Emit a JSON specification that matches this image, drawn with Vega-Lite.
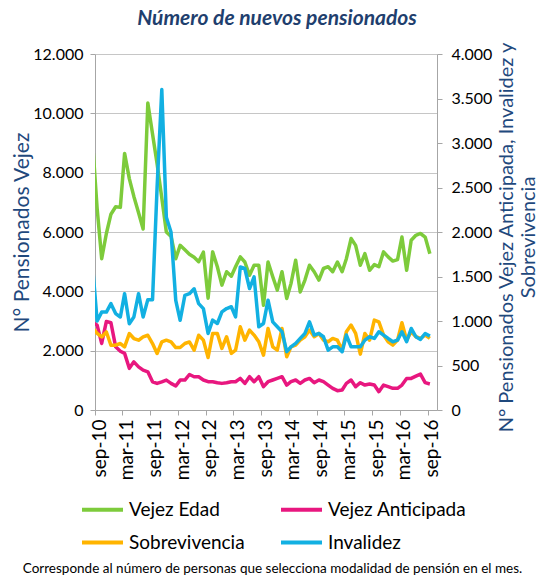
{
  "$schema": "https://vega.github.io/schema/vega-lite/v6.json",
  "width": 342,
  "height": 356,
  "autosize": {"type": "none"},
  "padding": {"left": 95, "top": 54, "right": 105, "bottom": 165},
  "background": "white",
  "config": {"font": "Lato", "view": {"stroke": null}},
  "title": {"text": "Número de nuevos pensionados", "fontSize": 21, "fontWeight": "bold", "fontStyle": "italic", "color": "#1F3F6E", "frame": "group", "dx": 11, "offset": 12, "font": "Lato"},
  "data": {"values": [
    {"fecha": "2010-08-15", "Vejez Edad": 9100, "Vejez Anticipada": 990, "Sobrevivencia": 925, "Invalidez": 1640},
    {"fecha": "2010-09-15", "Vejez Edad": 6800, "Vejez Anticipada": 954, "Sobrevivencia": 860, "Invalidez": 1000},
    {"fecha": "2010-10-15", "Vejez Edad": 5100, "Vejez Anticipada": 748, "Sobrevivencia": 821, "Invalidez": 1100},
    {"fecha": "2010-11-15", "Vejez Edad": 5950, "Vejez Anticipada": 995, "Sobrevivencia": 877, "Invalidez": 1100},
    {"fecha": "2010-12-15", "Vejez Edad": 6600, "Vejez Anticipada": 980, "Sobrevivencia": 728, "Invalidez": 1195},
    {"fecha": "2011-01-15", "Vejez Edad": 6850, "Vejez Anticipada": 710, "Sobrevivencia": 728, "Invalidez": 1083},
    {"fecha": "2011-02-15", "Vejez Edad": 6830, "Vejez Anticipada": 660, "Sobrevivencia": 747, "Invalidez": 1045},
    {"fecha": "2011-03-15", "Vejez Edad": 8650, "Vejez Anticipada": 636, "Sobrevivencia": 709, "Invalidez": 1307},
    {"fecha": "2011-04-15", "Vejez Edad": 7800, "Vejez Anticipada": 468, "Sobrevivencia": 859, "Invalidez": 970},
    {"fecha": "2011-05-15", "Vejez Edad": 7200, "Vejez Anticipada": 541, "Sobrevivencia": 803, "Invalidez": 1045},
    {"fecha": "2011-06-15", "Vejez Edad": 6650, "Vejez Anticipada": 485, "Sobrevivencia": 784, "Invalidez": 1307},
    {"fecha": "2011-07-15", "Vejez Edad": 6100, "Vejez Anticipada": 448, "Sobrevivencia": 821, "Invalidez": 1045},
    {"fecha": "2011-08-15", "Vejez Edad": 10350, "Vejez Anticipada": 429, "Sobrevivencia": 840, "Invalidez": 1240},
    {"fecha": "2011-09-15", "Vejez Edad": 9300, "Vejez Anticipada": 317, "Sobrevivencia": 747, "Invalidez": 1240},
    {"fecha": "2011-10-15", "Vejez Edad": 8300, "Vejez Anticipada": 299, "Sobrevivencia": 635, "Invalidez": 2500},
    {"fecha": "2011-11-15", "Vejez Edad": 7150, "Vejez Anticipada": 317, "Sobrevivencia": 765, "Invalidez": 3600},
    {"fecha": "2011-12-15", "Vejez Edad": 6000, "Vejez Anticipada": 336, "Sobrevivencia": 784, "Invalidez": 2165},
    {"fecha": "2012-01-15", "Vejez Edad": 5850, "Vejez Anticipada": 299, "Sobrevivencia": 765, "Invalidez": 1997},
    {"fecha": "2012-02-15", "Vejez Edad": 5100, "Vejez Anticipada": 269, "Sobrevivencia": 702, "Invalidez": 1232},
    {"fecha": "2012-03-15", "Vejez Edad": 5550, "Vejez Anticipada": 336, "Sobrevivencia": 702, "Invalidez": 1008},
    {"fecha": "2012-04-15", "Vejez Edad": 5400, "Vejez Anticipada": 336, "Sobrevivencia": 747, "Invalidez": 1288},
    {"fecha": "2012-05-15", "Vejez Edad": 5250, "Vejez Anticipada": 399, "Sobrevivencia": 765, "Invalidez": 1307},
    {"fecha": "2012-06-15", "Vejez Edad": 5150, "Vejez Anticipada": 373, "Sobrevivencia": 672, "Invalidez": 1362},
    {"fecha": "2012-07-15", "Vejez Edad": 5000, "Vejez Anticipada": 373, "Sobrevivencia": 840, "Invalidez": 1195},
    {"fecha": "2012-08-15", "Vejez Edad": 5320, "Vejez Anticipada": 337, "Sobrevivencia": 785, "Invalidez": 1139},
    {"fecha": "2012-09-15", "Vejez Edad": 3770, "Vejez Anticipada": 318, "Sobrevivencia": 590, "Invalidez": 860},
    {"fecha": "2012-10-15", "Vejez Edad": 5330, "Vejez Anticipada": 318, "Sobrevivencia": 860, "Invalidez": 1010},
    {"fecha": "2012-11-15", "Vejez Edad": 4830, "Vejez Anticipada": 307, "Sobrevivencia": 860, "Invalidez": 972},
    {"fecha": "2012-12-15", "Vejez Edad": 4210, "Vejez Anticipada": 299, "Sobrevivencia": 692, "Invalidez": 1103},
    {"fecha": "2013-01-15", "Vejez Edad": 4660, "Vejez Anticipada": 307, "Sobrevivencia": 823, "Invalidez": 1140},
    {"fecha": "2013-02-15", "Vejez Edad": 4510, "Vejez Anticipada": 318, "Sobrevivencia": 636, "Invalidez": 1160},
    {"fecha": "2013-03-15", "Vejez Edad": 4830, "Vejez Anticipada": 318, "Sobrevivencia": 673, "Invalidez": 1047},
    {"fecha": "2013-04-15", "Vejez Edad": 5160, "Vejez Anticipada": 355, "Sobrevivencia": 935, "Invalidez": 1608},
    {"fecha": "2013-05-15", "Vejez Edad": 4990, "Vejez Anticipada": 299, "Sobrevivencia": 785, "Invalidez": 1590},
    {"fecha": "2013-06-15", "Vejez Edad": 4540, "Vejez Anticipada": 374, "Sobrevivencia": 898, "Invalidez": 1365},
    {"fecha": "2013-07-15", "Vejez Edad": 4880, "Vejez Anticipada": 318, "Sobrevivencia": 842, "Invalidez": 1496},
    {"fecha": "2013-08-15", "Vejez Edad": 4880, "Vejez Anticipada": 374, "Sobrevivencia": 767, "Invalidez": 935},
    {"fecha": "2013-09-15", "Vejez Edad": 3530, "Vejez Anticipada": 262, "Sobrevivencia": 617, "Invalidez": 972},
    {"fecha": "2013-10-15", "Vejez Edad": 4990, "Vejez Anticipada": 318, "Sobrevivencia": 916, "Invalidez": 1234},
    {"fecha": "2013-11-15", "Vejez Edad": 4490, "Vejez Anticipada": 337, "Sobrevivencia": 710, "Invalidez": 990},
    {"fecha": "2013-12-15", "Vejez Edad": 4040, "Vejez Anticipada": 355, "Sobrevivencia": 673, "Invalidez": 935},
    {"fecha": "2014-01-15", "Vejez Edad": 4660, "Vejez Anticipada": 374, "Sobrevivencia": 916, "Invalidez": 880},
    {"fecha": "2014-02-15", "Vejez Edad": 3760, "Vejez Anticipada": 280, "Sobrevivencia": 598, "Invalidez": 655},
    {"fecha": "2014-03-15", "Vejez Edad": 4260, "Vejez Anticipada": 318, "Sobrevivencia": 710, "Invalidez": 710},
    {"fecha": "2014-04-15", "Vejez Edad": 5050, "Vejez Anticipada": 337, "Sobrevivencia": 729, "Invalidez": 748},
    {"fecha": "2014-05-15", "Vejez Edad": 3980, "Vejez Anticipada": 299, "Sobrevivencia": 785, "Invalidez": 804},
    {"fecha": "2014-06-15", "Vejez Edad": 4380, "Vejez Anticipada": 337, "Sobrevivencia": 823, "Invalidez": 860},
    {"fecha": "2014-07-15", "Vejez Edad": 4880, "Vejez Anticipada": 355, "Sobrevivencia": 898, "Invalidez": 990},
    {"fecha": "2014-08-15", "Vejez Edad": 4660, "Vejez Anticipada": 307, "Sobrevivencia": 823, "Invalidez": 842},
    {"fecha": "2014-09-15", "Vejez Edad": 4380, "Vejez Anticipada": 337, "Sobrevivencia": 860, "Invalidez": 860},
    {"fecha": "2014-10-15", "Vejez Edad": 4770, "Vejez Anticipada": 318, "Sobrevivencia": 785, "Invalidez": 823},
    {"fecha": "2014-11-15", "Vejez Edad": 4830, "Vejez Anticipada": 280, "Sobrevivencia": 767, "Invalidez": 673},
    {"fecha": "2014-12-15", "Vejez Edad": 4660, "Vejez Anticipada": 243, "Sobrevivencia": 804, "Invalidez": 710},
    {"fecha": "2015-01-15", "Vejez Edad": 4990, "Vejez Anticipada": 217, "Sobrevivencia": 785, "Invalidez": 710},
    {"fecha": "2015-02-15", "Vejez Edad": 4660, "Vejez Anticipada": 224, "Sobrevivencia": 673, "Invalidez": 655},
    {"fecha": "2015-03-15", "Vejez Edad": 5100, "Vejez Anticipada": 299, "Sobrevivencia": 879, "Invalidez": 842},
    {"fecha": "2015-04-15", "Vejez Edad": 5780, "Vejez Anticipada": 337, "Sobrevivencia": 954, "Invalidez": 710},
    {"fecha": "2015-05-15", "Vejez Edad": 5550, "Vejez Anticipada": 262, "Sobrevivencia": 860, "Invalidez": 710},
    {"fecha": "2015-06-15", "Vejez Edad": 4880, "Vejez Anticipada": 307, "Sobrevivencia": 628, "Invalidez": 710},
    {"fecha": "2015-07-15", "Vejez Edad": 5270, "Vejez Anticipada": 280, "Sobrevivencia": 860, "Invalidez": 785},
    {"fecha": "2015-08-15", "Vejez Edad": 4710, "Vejez Anticipada": 292, "Sobrevivencia": 785, "Invalidez": 823},
    {"fecha": "2015-09-15", "Vejez Edad": 4900, "Vejez Anticipada": 280, "Sobrevivencia": 1010, "Invalidez": 804},
    {"fecha": "2015-10-15", "Vejez Edad": 4830, "Vejez Anticipada": 206, "Sobrevivencia": 991, "Invalidez": 879},
    {"fecha": "2015-11-15", "Vejez Edad": 5330, "Vejez Anticipada": 280, "Sobrevivencia": 842, "Invalidez": 842},
    {"fecha": "2015-12-15", "Vejez Edad": 5160, "Vejez Anticipada": 262, "Sobrevivencia": 767, "Invalidez": 804},
    {"fecha": "2016-01-15", "Vejez Edad": 5020, "Vejez Anticipada": 243, "Sobrevivencia": 729, "Invalidez": 767},
    {"fecha": "2016-02-15", "Vejez Edad": 5070, "Vejez Anticipada": 243, "Sobrevivencia": 785, "Invalidez": 785},
    {"fecha": "2016-03-15", "Vejez Edad": 5830, "Vejez Anticipada": 280, "Sobrevivencia": 980, "Invalidez": 879},
    {"fecha": "2016-04-15", "Vejez Edad": 4710, "Vejez Anticipada": 355, "Sobrevivencia": 785, "Invalidez": 767},
    {"fecha": "2016-05-15", "Vejez Edad": 5720, "Vejez Anticipada": 355, "Sobrevivencia": 879, "Invalidez": 916},
    {"fecha": "2016-06-15", "Vejez Edad": 5890, "Vejez Anticipada": 381, "Sobrevivencia": 823, "Invalidez": 823},
    {"fecha": "2016-07-15", "Vejez Edad": 5950, "Vejez Anticipada": 404, "Sobrevivencia": 804, "Invalidez": 793},
    {"fecha": "2016-08-15", "Vejez Edad": 5830, "Vejez Anticipada": 307, "Sobrevivencia": 842, "Invalidez": 860},
    {"fecha": "2016-09-15", "Vejez Edad": 5270, "Vejez Anticipada": 292, "Sobrevivencia": 804, "Invalidez": 830}
  ]},
  "encoding": {
    "x": {
      "field": "fecha", "type": "temporal",
      "scale": {"type": "utc", "domain": [{"year": 2010, "month": 9, "date": 1, "utc": true}, {"year": 2016, "month": 11, "date": 1, "utc": true}]},
      "axis": {
        "values": [
          {"year": 2010, "month": 9, "date": 1, "utc": true},
          {"year": 2011, "month": 3, "date": 1, "utc": true},
          {"year": 2011, "month": 9, "date": 1, "utc": true},
          {"year": 2012, "month": 3, "date": 1, "utc": true},
          {"year": 2012, "month": 9, "date": 1, "utc": true},
          {"year": 2013, "month": 3, "date": 1, "utc": true},
          {"year": 2013, "month": 9, "date": 1, "utc": true},
          {"year": 2014, "month": 3, "date": 1, "utc": true},
          {"year": 2014, "month": 9, "date": 1, "utc": true},
          {"year": 2015, "month": 3, "date": 1, "utc": true},
          {"year": 2015, "month": 9, "date": 1, "utc": true},
          {"year": 2016, "month": 3, "date": 1, "utc": true},
          {"year": 2016, "month": 9, "date": 1, "utc": true}
        ],
        "labelExpr": "lower(utcFormat(datum.value, '%b-%y'))",
        "labelAngle": 270,
        "labelFontSize": 19,
        "labelColor": "#000000",
        "labelPadding": 4,
        "labelOffset": 4,
        "labelOverlap": false,
        "tickSize": 5,
        "tickColor": "#A6A6A6",
        "domainColor": "#A6A6A6",
        "grid": false,
        "title": "Corresponde al número de personas que selecciona modalidad de pensión en el mes.",
        "titleFontSize": 13.5,
        "titleFontWeight": "normal",
        "titleColor": "#000000",
        "titleX": 177,
        "titleY": 162,
        "titleAlign": "center",
        "titleBaseline": "alphabetic"
      }
    },
    "color": {
      "field": "serie", "type": "nominal",
      "scale": {"domain": ["Vejez Edad", "Vejez Anticipada", "Sobrevivencia", "Invalidez"], "range": ["#7DCB3B", "#E8177F", "#FFB400", "#12B0E2"]},
      "legend": {
        "title": null, "orient": "none", "legendX": -15, "legendY": 433,
        "direction": "horizontal", "columns": 2,
        "symbolType": "stroke", "symbolSize": 1681, "symbolStrokeWidth": 4,
        "labelFontSize": 19, "labelColor": "#000000", "labelFont": "Lato",
        "columnPadding": 28, "rowPadding": -5, "labelOffset": 4, "padding": 0
      }
    }
  },
  "layer": [
    {
      "transform": [{"fold": ["Vejez Edad"], "as": ["serie", "valor"]}],
      "mark": {"type": "line", "strokeWidth": 3.5, "strokeJoin": "round", "clip": true},
      "encoding": {
        "y": {
          "field": "valor", "type": "quantitative",
          "scale": {"domain": [0, 12000], "nice": false},
          "axis": {
            "orient": "left",
            "values": [0, 2000, 4000, 6000, 8000, 10000, 12000],
            "labelExpr": "replace(format(datum.value, ','), ',', '.')",
            "labelFontSize": 16, "labelColor": "#000000", "labelPadding": 7,
            "tickSize": 5, "tickColor": "#A6A6A6", "domainColor": "#A6A6A6",
            "grid": true, "gridColor": "#C6C6C6",
            "title": "N° Pensionados Vejez", "titleFontSize": 21, "titleFontWeight": "normal",
            "titleColor": "#1F497D", "titleX": -73, "titleY": 178,
            "titleAngle": 270, "titleAlign": "center", "titleBaseline": "middle"
          }
        }
      }
    },
    {
      "transform": [{"fold": ["Vejez Anticipada", "Sobrevivencia", "Invalidez"], "as": ["serie", "valor"]}],
      "mark": {"type": "line", "strokeWidth": 3.5, "strokeJoin": "round", "clip": true},
      "encoding": {
        "y": {
          "field": "valor", "type": "quantitative",
          "scale": {"domain": [0, 4000], "nice": false},
          "axis": {
            "orient": "right",
            "values": [0, 500, 1000, 1500, 2000, 2500, 3000, 3500, 4000],
            "labelExpr": "replace(format(datum.value, ','), ',', '.')",
            "labelFontSize": 16, "labelColor": "#000000", "labelPadding": 9,
            "tickSize": 5, "tickColor": "#A6A6A6", "domainColor": "#A6A6A6",
            "grid": false,
            "title": ["N° Pensionados Vejez Anticipada, Invalidez y", "Sobrevivencia"],
            "titleAngle": 270, "titleBaseline": "top", "titleAlign": "center",
            "titleX": 59, "titleY": 183,
            "titleFontSize": 20, "titleFontWeight": "normal",
            "titleColor": "#1F497D"
          }
        }
      }
    }
  ],
  "resolve": {"scale": {"y": "independent"}}
}
